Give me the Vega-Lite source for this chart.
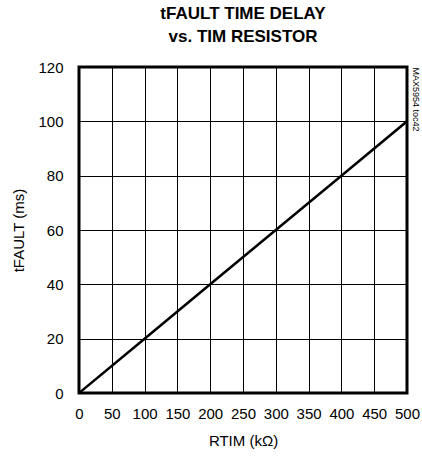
{
  "$schema": "https://vega.github.io/schema/vega-lite/v6.json",
  "width": 328,
  "height": 326,
  "padding": {"left": 11, "top": 5, "right": 5, "bottom": 5},
  "background": "white",
  "config": {
    "font": "Liberation Sans, Arial, sans-serif",
    "view": {"stroke": "black", "strokeWidth": 3},
    "axis": {
      "labelFont": "Liberation Sans, Arial, sans-serif",
      "titleFont": "Liberation Sans, Arial, sans-serif",
      "labelFontSize": 15,
      "titleFontSize": 15,
      "labelColor": "black",
      "titleColor": "black",
      "titleFontWeight": "normal",
      "domain": false,
      "ticks": false,
      "gridColor": "black",
      "gridWidth": 1,
      "gridOpacity": 1
    }
  },
  "title": {
    "text": ["tFAULT TIME DELAY", "vs. TIM RESISTOR"],
    "font": "Liberation Sans, Arial, sans-serif",
    "fontSize": 17,
    "fontWeight": "bold",
    "color": "black",
    "anchor": "middle",
    "lineHeight": 23,
    "offset": 14
  },
  "data": {
    "values": [
      {"r": 0, "t": 0},
      {"r": 100, "t": 20},
      {"r": 200, "t": 40},
      {"r": 300, "t": 60},
      {"r": 400, "t": 80},
      {"r": 500, "t": 100}
    ]
  },
  "layer": [
    {
      "mark": {"type": "line", "color": "black", "strokeWidth": 2.5, "clip": true},
      "encoding": {
        "x": {
          "field": "r",
          "type": "quantitative",
          "scale": {"domain": [0, 500], "nice": false, "zero": true},
          "axis": {"values": [0, 50, 100, 150, 200, 250, 300, 350, 400, 450, 500], "title": "RTIM (kΩ)", "labelPadding": 13, "titlePadding": 12, "labelFlush": false}
        },
        "y": {
          "field": "t",
          "type": "quantitative",
          "scale": {"domain": [0, 120], "nice": false},
          "axis": {"values": [0, 20, 40, 60, 80, 100, 120], "title": "tFAULT (ms)", "labelPadding": 16, "titlePadding": 11, "labelFlush": false}
        }
      }
    },
    {
      "mark": {"type": "line", "opacity": 0},
      "encoding": {
        "y": {
          "field": "t",
          "type": "quantitative",
          "axis": {"orient": "right", "labels": false, "grid": false, "title": "MAX5954 toc42", "titleFontSize": 9, "titleAngle": 90, "titleAnchor": "end", "titleAlign": "left", "titleBaseline": "bottom", "titlePadding": 3}
        }
      }
    }
  ],
  "resolve": {"axis": {"y": "independent"}}
}
